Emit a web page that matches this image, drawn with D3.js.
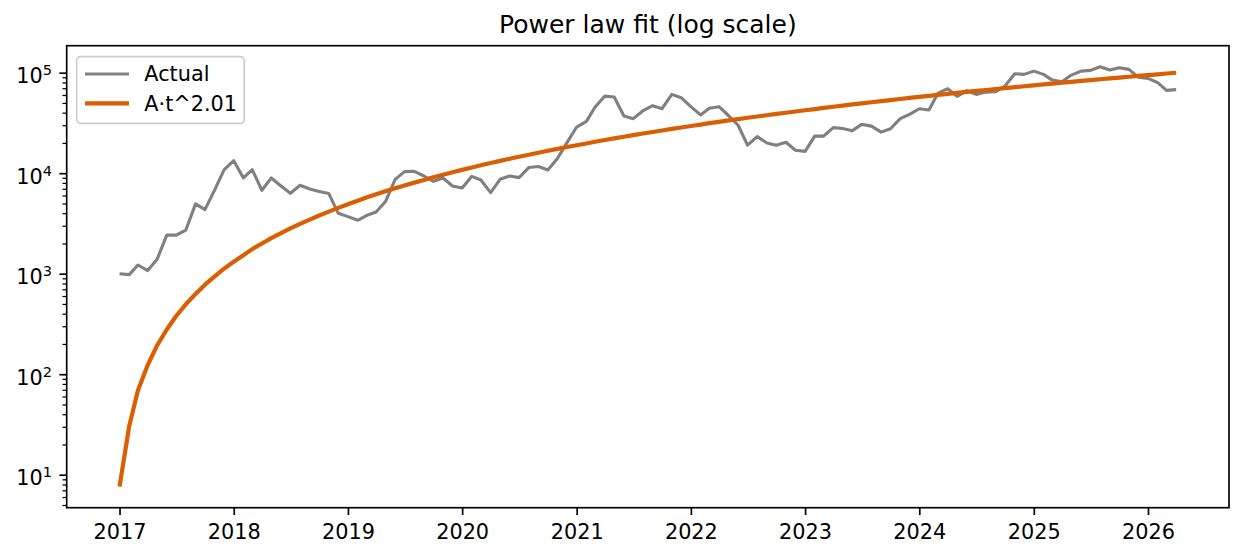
<!DOCTYPE html>
<html>
<head>
<meta charset="utf-8">
<script src="https://cdn.jsdelivr.net/npm/d3@7"></script>
<style>
  body { margin: 0; background: #fff; }
  text { font-family: "DejaVu Sans", sans-serif; fill: #000; }
</style>
</head>
<body>
<div id="chart"></div>
<script>
// monthly series, first month = Jan 2017
var startMonth = "2017-01";

var actualValues = [
  1000, 980, 1220, 1075, 1390, 2420, 2420, 2720, 4950, 4340, 6810, 10770,
  13330, 8960, 10870, 6760, 8960, 7460, 6310, 7590, 6970, 6560, 6270, 3990,
  3700, 3400, 3790, 4110, 5220, 8690, 10370, 10450, 9380, 8300, 8960, 7460,
  7120, 9310, 8550, 6410, 8690, 9380, 9040, 11380, 11650, 10770, 14060, 20140,
  28780, 32800, 45500, 58500, 57200, 37060, 34900, 41880, 46990, 43860, 60840, 56360,
  46000, 38000, 44200, 45900, 37500, 30000, 19000, 23100, 20000, 19000, 20300, 16900,
  16500, 23400, 23400, 28400, 27800, 26500, 30600, 29400, 25600, 27700, 34900, 38500,
  43800, 42500, 62700, 69300, 58200, 66300, 60800, 64100, 64700, 73600, 97700, 96200,
  103700, 96200, 84400, 81400, 94700, 103700, 105400, 114700, 106200, 112100, 107900, 90400,
  87700, 79600, 66700, 67800
];

// fitted curve
var fitValues = [
  7.6, 30.6, 69.2, 123.3, 193.1, 278.5, 379.7, 496.6, 629.3, 777.7, 941.9, 1122,
  1318, 1529, 1757, 2000, 2260, 2535, 2826, 3132, 3455, 3794, 4149, 4519,
  4905, 5308, 5726, 6160, 6611, 7077, 7559, 8057, 8571, 9101, 9647, 10209,
  10787, 11381, 11991, 12617, 13259, 13917, 14591, 15281, 15987, 16709, 17448, 18202,
  18971, 19758, 20560, 21378, 22212, 23063, 23929, 24812, 25711, 26625, 27556, 28503,
  29466, 30445, 31440, 32451, 33478, 34521, 35580, 36655, 37746, 38854, 39977, 41117,
  42272, 43444, 44632, 45836, 47057, 48294, 49546, 50815, 52100, 53402, 54719, 56053,
  57403, 58766, 60150, 61545, 62960, 64388, 65834, 67295, 68774, 70269, 71781, 73306,
  74849, 76409, 77983, 79573, 81180, 82803, 84442, 86097, 87768, 89454, 91161, 92881,
  94616, 96368, 98139, 99922
];

var yearTicks = [2017, 2018, 2019, 2020, 2021, 2022, 2023, 2024, 2025, 2026];
var decadeTicks = [1, 2, 3, 4, 5];

var seriesNames = ["Actual", "A\u00b7t^2.01"];
var titleText = "Power law fit (log scale)";

var svgWidth = 1244;
var svgHeight = 558;

var margin = {
  top: 45.7,
  right: 15,
  bottom: 50.3,
  left: 66.7
};

var width = svgWidth - margin.left - margin.right;
var height = svgHeight - margin.top - margin.bottom;

var grayColor = "#808080";
var fitColor = "#d95f02";

var svg = d3
  .select("#chart")
  .append("svg")
  .attr("width", svgWidth)
  .attr("height", svgHeight);

var chartGroup = svg.append("g")
  .attr("transform", `translate(${margin.left}, ${margin.top})`);

// build rows with dates
var parseMonth = d3.timeParse("%Y-%m");
var firstDate = parseMonth(startMonth);
var data = actualValues.map(function(v, i) {
  return {
    date: d3.timeMonth.offset(firstDate, i),
    actual: v,
    fit: fitValues[i]
  };
});

// matplotlib style 5% padding
var xExtent = d3.extent(data, d => d.date);
var xPad = (xExtent[1] - xExtent[0]) * 0.05;
var xScale = d3.scaleTime()
  .domain([new Date(+xExtent[0] - xPad), new Date(+xExtent[1] + xPad)])
  .range([0, width]);

var yMin = Math.log10(d3.min(data, d => Math.min(d.actual, d.fit)));
var yMax = Math.log10(d3.max(data, d => Math.max(d.actual, d.fit)));
var yPad = (yMax - yMin) * 0.05;
var yScale = d3.scaleLog()
  .domain([Math.pow(10, yMin - yPad), Math.pow(10, yMax + yPad)])
  .range([height, 0]);

// x axis
var bottomAxis = d3.axisBottom(xScale)
  .tickValues(yearTicks.map(y => new Date(y, 0, 1)))
  .tickFormat(d3.timeFormat("%Y"))
  .tickSize(7.3)
  .tickPadding(7.3)
  .tickSizeOuter(0);

var xAxisGroup = chartGroup.append("g")
  .attr("transform", `translate(0, ${height})`)
  .call(bottomAxis);
xAxisGroup.select(".domain").remove();
xAxisGroup.selectAll("line").attr("stroke", "#000").attr("stroke-width", 1.67);
xAxisGroup.selectAll("text")
  .attr("dy", "0.8em")
  .style("font-size", "20.8px")
  .style("font-family", "DejaVu Sans");

// y axis, minor ticks first
var minorValues = [];
var dom = yScale.domain();
for (var k = -1; k <= 6; k++) {
  for (var m = 2; m <= 9; m++) {
    var v = m * Math.pow(10, k);
    if (v >= dom[0] && v <= dom[1]) minorValues.push(v);
  }
}

var minorAxis = d3.axisLeft(yScale)
  .tickValues(minorValues)
  .tickFormat("")
  .tickSize(4.2)
  .tickSizeOuter(0);
var minorGroup = chartGroup.append("g").call(minorAxis);
minorGroup.select(".domain").remove();
minorGroup.selectAll("line").attr("stroke", "#000").attr("stroke-width", 1.25);

var majorAxis = d3.axisLeft(yScale)
  .tickValues(decadeTicks.map(e => Math.pow(10, e)))
  .tickFormat("")
  .tickSize(7.3)
  .tickSizeOuter(0);
var majorGroup = chartGroup.append("g").call(majorAxis);
majorGroup.select(".domain").remove();
majorGroup.selectAll("line").attr("stroke", "#000").attr("stroke-width", 1.67);

// 10^n labels
var yLabels = chartGroup.append("g").selectAll("text")
  .data(decadeTicks)
  .enter()
  .append("text")
  .attr("x", -14.6)
  .attr("y", e => yScale(Math.pow(10, e)) + 10.5)
  .attr("text-anchor", "end")
  .style("font-size", "20.8px");
yLabels.append("tspan").text("10");
yLabels.append("tspan")
  .attr("dy", -7.8)
  .style("font-size", "14.6px")
  .text(e => e);

// lines
var actualLine = d3.line()
  .x(d => xScale(d.date))
  .y(d => yScale(d.actual));
var fitLine = d3.line()
  .x(d => xScale(d.date))
  .y(d => yScale(d.fit));

chartGroup.append("path")
  .datum(data)
  .attr("d", actualLine)
  .attr("fill", "none")
  .attr("stroke", grayColor)
  .attr("stroke-width", 3.1)
  .attr("stroke-linejoin", "round")
  .attr("stroke-linecap", "butt");

chartGroup.append("path")
  .datum(data)
  .attr("d", fitLine)
  .attr("fill", "none")
  .attr("stroke", fitColor)
  .attr("stroke-width", 4.2)
  .attr("stroke-linejoin", "round")
  .attr("stroke-linecap", "butt");

// frame
chartGroup.append("rect")
  .attr("x", 0)
  .attr("y", 0)
  .attr("width", width)
  .attr("height", height)
  .attr("fill", "none")
  .attr("stroke", "#000")
  .attr("stroke-width", 1.67);

// title
svg.append("text")
  .attr("x", margin.left + width / 2)
  .attr("y", 33.3)
  .attr("text-anchor", "middle")
  .style("font-size", "25px")
  .text(titleText);

// legend
var legend = chartGroup.append("g")
  .attr("transform", "translate(10, 11)");

legend.append("rect")
  .attr("x", 0)
  .attr("y", 0)
  .attr("width", 167.6)
  .attr("height", 66.6)
  .attr("rx", 4)
  .attr("fill", "#fff")
  .attr("fill-opacity", 0.8)
  .attr("stroke", "#cccccc")
  .attr("stroke-width", 1.67);

var legendItems = legend.selectAll(".item")
  .data(seriesNames)
  .enter()
  .append("g")
  .attr("class", "item")
  .attr("transform", (d, i) => `translate(0, ${17.3 + i * 29.3})`);

legendItems.append("line")
  .attr("x1", 8.3)
  .attr("x2", 52.3)
  .attr("y1", 0)
  .attr("y2", 0)
  .attr("stroke", (d, i) => i == 0 ? grayColor : fitColor)
  .attr("stroke-width", (d, i) => i == 0 ? 3.1 : 4.2);

legendItems.append("text")
  .attr("x", 67.6)
  .attr("y", 7.3)
  .style("font-size", "20.8px")
  .text(d => d);
</script>
</body>
</html>
